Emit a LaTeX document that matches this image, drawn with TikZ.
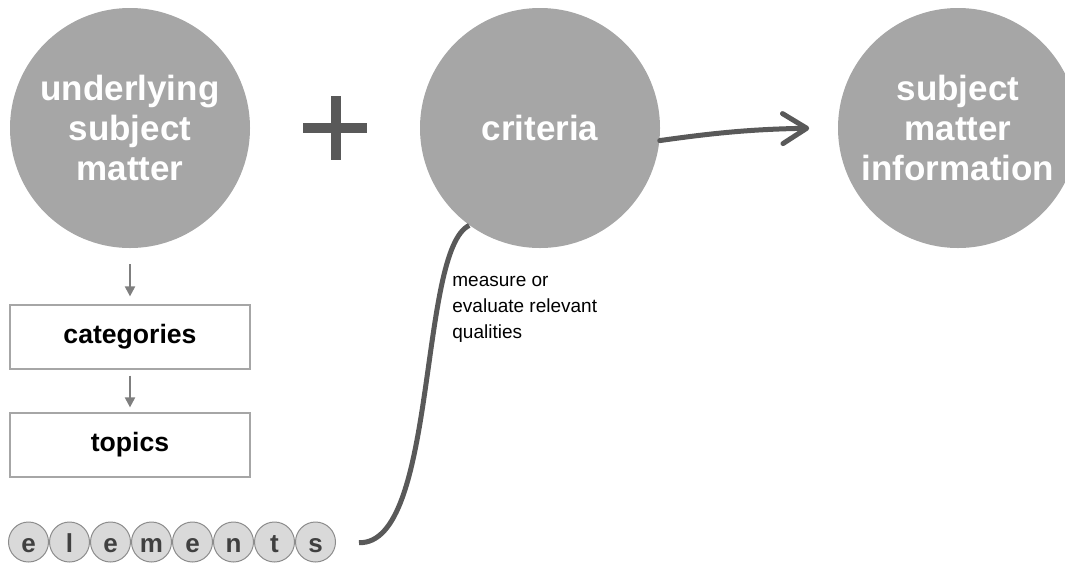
\documentclass[tikz,border=0pt]{standalone}
\usepackage{fontspec}
\setmainfont{Liberation Sans}
\usepackage{tikz}
\usetikzlibrary{arrows.meta, bending}
\definecolor{circgray}{HTML}{A6A6A6}
\definecolor{darkline}{HTML}{595959}
\definecolor{boxgray}{HTML}{A6A6A6}
\definecolor{arrowgray}{HTML}{7F7F7F}
\definecolor{ringgray}{HTML}{8C8C8C}
\definecolor{lettergray}{HTML}{D9D9D9}
\definecolor{lettertext}{HTML}{404040}
\tikzstyle{bigcirc} = [shape=circle, fill=circgray, text=white, align=center, inner sep=0pt, minimum size=120pt, font=\fontsize{17.5}{20}\selectfont\bfseries]
\tikzstyle{box} = [draw=boxgray, line width=0.6pt, minimum width=120pt, minimum height=32pt, inner sep=0pt, font=\fontsize{13.3}{16}\selectfont\bfseries]
\tikzstyle{letter} = [shape=circle, draw=ringgray, fill=lettergray, line width=0.5pt, minimum size=20pt, inner sep=0pt, text height=10pt, text depth=0pt, text=lettertext, font=\fontsize{13}{15}\selectfont\bfseries]
\tikzstyle{smallarrow} = [draw=arrowgray, line width=1pt, -{Triangle[length=5pt,width=5pt]}]
\tikzstyle{arrow} = [draw=darkline, line width=2.5pt, line cap=round, -{Straight Barb[length=12pt,width=15pt,round]}]

\begin{document}
\begin{tikzpicture}[x=0.5pt,y=-0.5pt]
    \useasboundingbox (0,0) rectangle (1065,563);

    % the three circles
    \node[bigcirc] (subjm) at (130,128) {underlying\\subject\\matter};
    \node[bigcirc] (crit) at (540,128) {criteria};
    \node[bigcirc] (info) at (958,128) {subject\\matter\\information};

    % plus sign
    \fill[darkline] (303,123) rectangle (367,133);
    \fill[darkline] (331,96) rectangle (341,160);

    \node[box] (cat) at (130,337) {categories};
    \node[box] (top) at (130,445) {topics};

    \node[letter] (e1) at (28.5,542) {e};
    \node[letter] (e2) at (69.5,542) {l};
    \node[letter] (e3) at (110.5,542) {e};
    \node[letter] (e4) at (151.5,542) {m};
    \node[letter] (e5) at (192.5,542) {e};
    \node[letter] (e6) at (233.5,542) {n};
    \node[letter] (e7) at (274.5,542) {t};
    \node[letter] (e8) at (315.5,542) {s};

    \node[anchor=north west, align=left, inner sep=0pt, font=\fontsize{9.5}{13}\selectfont] (meas) at (452,276) {measure or\\evaluate relevant\\qualities};

    \draw[smallarrow, shorten <=8pt, shorten >=4pt] (subjm.south) -- (cat.north);
    \draw[smallarrow, shorten <=3pt, shorten >=2.5pt] (cat.south) -- (top.north);
    \draw[arrow, shorten >=14.5pt] (crit.-6) to[bend left=4] (info.west);
    \draw[darkline, line width=2.5pt, shorten <=11.5pt] (e8.east) .. controls (438,545) and (418,250) .. (crit.234);

\end{tikzpicture}
\end{document}
